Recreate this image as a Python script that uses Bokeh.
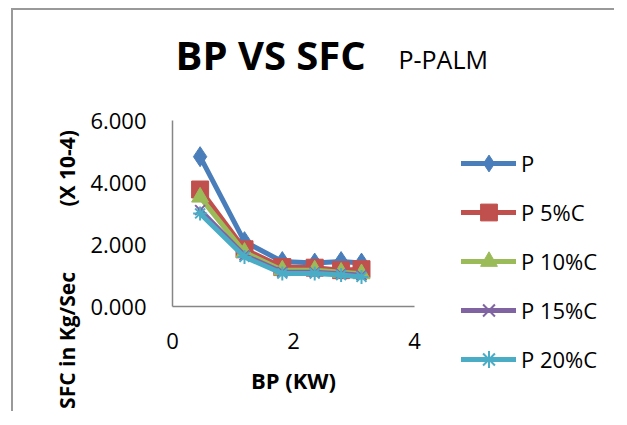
import numpy as np
from bokeh.plotting import figure
from bokeh.models import (Label, Legend, LegendItem, FixedTicker,
                          NumeralTickFormatter, Range1d)
from bokeh.embed import file_html
from bokeh.resources import INLINE

# ---- data ----
bp = [0.46, 1.20, 1.83, 2.37, 2.81, 3.15]
sfc_p = [4.82, 2.05, 1.40, 1.35, 1.40, 1.35]
sfc_p5 = [3.75, 1.80, 1.22, 1.20, 1.12, 1.15]
sfc_p10 = [3.50, 1.70, 1.12, 1.12, 1.05, 1.00]
sfc_p15 = [3.08, 1.60, 1.06, 1.05, 1.00, 0.95]
sfc_p20 = [2.97, 1.55, 1.01, 1.01, 0.96, 0.90]
series_names = ["P", "P 5%C", "P 10%C", "P 15%C", "P 20%C"]
x_ticks = [0, 2, 4]
y_ticks = [0, 2, 4, 6]
title_main = "BP VS SFC"
title_sub = "P-PALM"
x_title = "BP (KW)"
y_title = "SFC in Kg/Sec" + "\u00a0" * 12 + "(X 10-4)"

series_values = [sfc_p, sfc_p5, sfc_p10, sfc_p15, sfc_p20]
colors = ["#4A7EBB", "#C0504D", "#9BBB59", "#8064A2", "#4BACC6"]
markers = ["diamond", "square", "triangle", "x", "asterisk"]
sizes = [20, 17, 17, 14, 14]

FONT = "Open Sans"

# ---- layout constants (pixels) ----
W, H = 603, 403
BORDER = 2
ML, MT = 11, 8
CW, CH = W - BORDER, H - BORDER
F_LEFT, F_TOP, F_W, F_H = 159, 110, 240, 184     # plot frame inside the axes figure

x0, x1 = x_ticks[0], x_ticks[-1]
y0, y1 = y_ticks[0], y_ticks[-1]

# ---------- figure with the axes ----------
b = figure(width=W, height=H, output_backend="svg", toolbar_location=None,
           x_range=Range1d(x0, x1), y_range=Range1d(y0, y1),
           min_border_left=F_LEFT, min_border_right=CW - F_LEFT - F_W,
           min_border_top=F_TOP, min_border_bottom=CH - F_TOP - F_H)
b.margin = (MT, 0, 0, ML)
b.styles = {"border-left": "2px solid #999999", "border-top": "2px solid #999999"}
b.outline_line_color = None
b.grid.visible = False
b.title.visible = False

for ax in (b.xaxis[0], b.yaxis[0]):
    ax.axis_line_color = "#868686"
    ax.axis_line_width = 1.5
    ax.major_tick_out = 0
    ax.major_tick_in = 0
    ax.minor_tick_out = 0
    ax.minor_tick_in = 0
    ax.major_tick_line_color = None
    ax.minor_tick_line_color = None
    ax.major_label_text_font = FONT
    ax.major_label_text_font_size = "22px"
    ax.major_label_text_color = "black"
    ax.axis_label_text_font = FONT
    ax.axis_label_text_font_style = "bold"
    ax.axis_label_text_color = "black"

b.xaxis.ticker = FixedTicker(ticks=x_ticks)
b.yaxis.ticker = FixedTicker(ticks=y_ticks)
b.yaxis.formatter = NumeralTickFormatter(format="0.000")
b.yaxis.major_label_standoff = 26
b.xaxis.major_label_standoff = 26
b.xaxis.axis_label = x_title
b.xaxis.axis_label_text_font_size = "22px"
b.xaxis.axis_label_standoff = 13

# ---------- overlay figure: series, legend and titles ----------
# its frame is the whole canvas; its scales line up with the axes figure
AL, AT = F_LEFT + BORDER, F_TOP + BORDER          # axes frame in overlay canvas
kx = F_W / (x1 - x0)
ky = F_H / (y1 - y0)
ax_range = Range1d(x0 - AL / kx, x0 + (W - AL) / kx)
ay_range = Range1d(y0 - (H - AT - F_H) / ky, y0 + (AT + F_H) / ky)

a = figure(width=W, height=H, output_backend="svg", toolbar_location=None,
           x_range=ax_range, y_range=ay_range, x_axis_type=None, y_axis_type=None,
           min_border=0, min_border_left=0, min_border_right=0,
           min_border_top=0, min_border_bottom=0)
a.margin = (-H, 0, 0, ML)
a.title.visible = False
a.outline_line_color = None
a.background_fill_color = None
a.border_fill_color = None
a.grid.visible = False

items = []
for name, vals, c, m, s in zip(series_names, series_values, colors, markers, sizes):
    ln = a.line(bp, vals, line_color=c, line_width=5, line_join="round", line_cap="round")
    lw = 2 if m in ("x", "asterisk") else 1
    sc = a.scatter(bp, vals, marker=m, size=s, fill_color=c,
                   line_color=c, line_width=lw)
    items.append(LegendItem(label=name, renderers=[ln, sc]))


def sx(px):  # reference page x -> overlay screen x
    return px - 173 + AL


def sy(py):  # reference page y -> overlay screen y (from bottom)
    return H - (py - 306 + AT + F_H)


legend = Legend(items=items, location=(sx(462), sy(382)), glyph_width=55, glyph_height=42,
                label_height=42, spacing=7, padding=0, margin=0, label_standoff=5,
                border_line_color=None, background_fill_alpha=0,
                label_text_font=FONT, label_text_font_size="22px",
                label_text_color="black")
a.add_layout(legend)

a.add_layout(Label(x=sx(176), y=sy(56), x_units="screen", y_units="screen", text=title_main,
                   text_font=FONT, text_font_style="bold", text_font_size="40px",
                   text_align="left", text_baseline="alphabetic", text_color="black"))
a.add_layout(Label(x=sx(399), y=sy(60), x_units="screen", y_units="screen", text=title_sub,
                   text_font=FONT, text_font_size="25px",
                   text_align="left", text_baseline="alphabetic", text_color="black"))
a.add_layout(Label(x=sx(67), y=sy(271), x_units="screen", y_units="screen", text=y_title,
                   angle=np.pi / 2, text_font=FONT, text_font_style="bold",
                   text_font_size="21px", text_align="center", text_baseline="middle",
                   text_color="black"))

open("out.html", "w").write(file_html([b, a], INLINE))
